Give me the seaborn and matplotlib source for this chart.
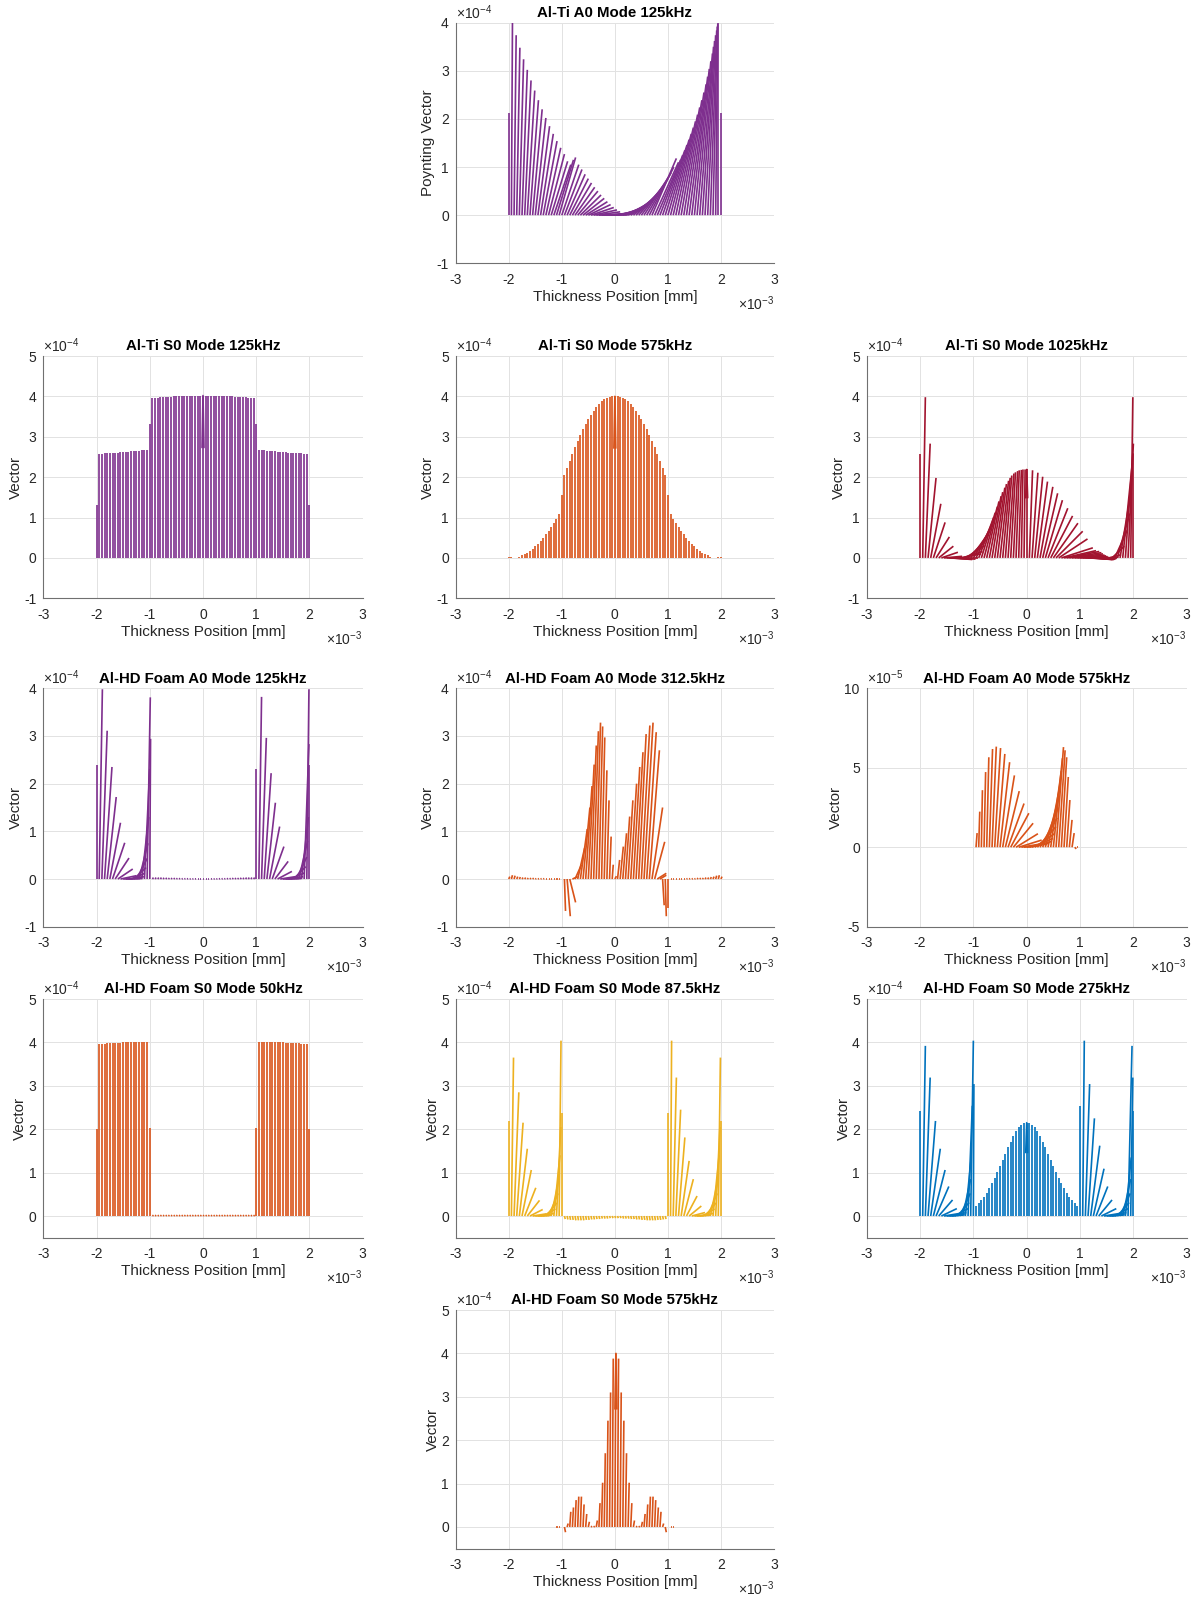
import numpy as np
import pandas as pd
import matplotlib
matplotlib.use("Agg")
import matplotlib.pyplot as plt
from matplotlib.ticker import ScalarFormatter, FixedLocator
import seaborn as sns

sns.set_theme(style="white")
plt.rcParams["font.family"] = ["Liberation Sans", "DejaVu Sans"]
plt.rcParams["axes.unicode_minus"] = False
plt.rcParams["mathtext.fontset"] = "custom"
plt.rcParams["mathtext.rm"] = "Liberation Sans"
plt.rcParams["mathtext.it"] = "Liberation Sans:italic"
plt.rcParams["mathtext.bf"] = "Liberation Sans:bold"

# ---------------------------------------------------------------------------
# Sample positions across the plate thickness [mm]
# ---------------------------------------------------------------------------
thickness_mm = [-2.00, -1.95, -1.90, -1.85, -1.80, -1.75, -1.70, -1.65, -1.60, -1.55,
                -1.50, -1.45, -1.40, -1.35, -1.30, -1.25, -1.20, -1.15, -1.10, -1.05,
                -1.00, -0.95, -0.90, -0.85, -0.80, -0.75, -0.70, -0.65, -0.60, -0.55,
                -0.50, -0.45, -0.40, -0.35, -0.30, -0.25, -0.20, -0.15, -0.10, -0.05,
                0.00, 0.05, 0.10, 0.15, 0.20, 0.25, 0.30, 0.35, 0.40, 0.45,
                0.50, 0.55, 0.60, 0.65, 0.70, 0.75, 0.80, 0.85, 0.90, 0.95,
                1.00, 1.05, 1.10, 1.15, 1.20, 1.25, 1.30, 1.35, 1.40, 1.45,
                1.50, 1.55, 1.60, 1.65, 1.70, 1.75, 1.80, 1.85, 1.90, 1.95, 2.00]

# Vectors at each sample: u = in-plane offset of the tip [mm], v = amplitude
# (in units of the axis exponent).
zero_21 = [0.00, 0.00, 0.00, 0.00, 0.00, 0.00, 0.00, 0.00, 0.00, 0.00, 0.00,
           0.00, 0.00, 0.00, 0.00, 0.00, 0.00, 0.00, 0.00, 0.00, 0.00]
zero_39 = [0.00, 0.00, 0.00, 0.00, 0.00, 0.00, 0.00, 0.00, 0.00, 0.00,
           0.00, 0.00, 0.00, 0.00, 0.00, 0.00, 0.00, 0.00, 0.00, 0.00,
           0.00, 0.00, 0.00, 0.00, 0.00, 0.00, 0.00, 0.00, 0.00, 0.00,
           0.00, 0.00, 0.00, 0.00, 0.00, 0.00, 0.00, 0.00, 0.00]
dash_39 = [0.02, 0.02, 0.02, 0.02, 0.02, 0.02, 0.02, 0.02, 0.02, 0.02,
           0.02, 0.02, 0.02, 0.02, 0.02, 0.02, 0.02, 0.02, 0.02, 0.02,
           0.02, 0.02, 0.02, 0.02, 0.02, 0.02, 0.02, 0.02, 0.02, 0.02,
           0.02, 0.02, 0.02, 0.02, 0.02, 0.02, 0.02, 0.02, 0.02]
vertical_81 = zero_21 + zero_39 + zero_21

# --- Al-Ti A0 125 kHz ---
alti_a0_125_u = ([0.00]
                 + [0.02, 0.04, 0.06, 0.08, 0.10, 0.12, 0.14, 0.16, 0.18, 0.20,
                    0.22, 0.24, 0.26, 0.28, 0.30, 0.31, 0.32, 0.32, 0.31, 0.32,
                    0.33, 0.34, 0.35, 0.36, 0.37, 0.38, 0.39, 0.40, 0.41, 0.42,
                    0.43, 0.44, 0.45, 0.46, 0.46]
                 + [0.45, 0.46, 0.46, 0.47, 0.47, 0.47, 0.47, 0.47, 0.46, 0.46,
                    0.46, 0.46, 0.45, 0.45, 0.45, 0.45, 0.46, 0.46, 0.46, 0.45,
                    0.44, 0.43, 0.42, 0.41, 0.40, 0.39, 0.38, 0.37, 0.36, 0.35,
                    0.34, 0.33, 0.32, 0.30, 0.28, 0.26, 0.24, 0.21, 0.18, 0.15,
                    0.12, 0.08, 0.04, 0.00]
                 + [0.00])
alti_a0_125_v = ([2.12]
                 + [4.00, 3.74, 3.48, 3.24, 3.02, 2.80, 2.59, 2.39, 2.20, 2.02,
                    1.85, 1.69, 1.54, 1.40, 1.27, 1.12, 1.05, 1.15, 1.20, 1.05,
                    0.95, 0.85, 0.76, 0.67, 0.58, 0.50, 0.42, 0.35, 0.28, 0.22,
                    0.16, 0.11, 0.07, 0.03, 0.01]
                 + [0.01, 0.02, 0.04, 0.06, 0.09, 0.12, 0.16, 0.20, 0.25, 0.30,
                    0.36, 0.43, 0.50, 0.58, 0.67, 0.77, 0.88, 1.00, 1.18, 1.10,
                    1.15, 1.25, 1.35, 1.46, 1.57, 1.69, 1.82, 1.95, 2.09, 2.24,
                    2.39, 2.55, 2.72, 2.88, 3.04, 3.20, 3.36, 3.50, 3.62, 3.74,
                    3.84, 3.92, 3.97, 4.00]
                 + [2.12])

# --- Al-Ti S0 125 kHz ---
alti_s0_125_v = ([1.30]
                 + [2.58, 2.58, 2.59, 2.59, 2.60, 2.60, 2.61, 2.61, 2.62, 2.62,
                    2.63, 2.63, 2.64, 2.64, 2.65, 2.65, 2.66, 2.66, 2.67]
                 + [3.32]
                 + [3.96, 3.97, 3.97, 3.98, 3.98, 3.99, 3.99, 3.99, 4.00, 4.00,
                    4.00, 4.01, 4.01, 4.01, 4.01, 4.02, 4.02, 4.02, 4.02, 4.02,
                    4.02, 4.02, 4.02, 4.02, 4.01, 4.01, 4.01, 4.01, 4.00, 4.00,
                    4.00, 3.99, 3.99, 3.99, 3.98, 3.98, 3.97, 3.97, 3.96]
                 + [3.32]
                 + [2.67, 2.66, 2.66, 2.65, 2.65, 2.64, 2.64, 2.63, 2.63, 2.62,
                    2.62, 2.61, 2.61, 2.60, 2.60, 2.59, 2.59, 2.58, 2.58]
                 + [1.30])

# --- Al-Ti S0 575 kHz ---
alti_s0_575_v = ([0.03, 0.03, 0.01, 0.01, 0.03, 0.06, 0.09, 0.13, 0.18, 0.23,
                  0.29, 0.35, 0.42, 0.50, 0.58, 0.67, 0.76, 0.86, 0.96, 1.08]
                 + [1.55]
                 + [2.05, 2.22, 2.40, 2.57, 2.75, 2.90, 3.05, 3.19, 3.32, 3.44,
                    3.55, 3.65, 3.74, 3.81, 3.88, 3.93, 3.97, 3.99, 4.00, 4.00]
                 + [4.00, 3.99, 3.97, 3.93, 3.88, 3.81, 3.74, 3.65, 3.55, 3.44,
                    3.32, 3.19, 3.05, 2.90, 2.75, 2.57, 2.40, 2.22, 2.05]
                 + [1.55]
                 + [1.08, 0.96, 0.86, 0.76, 0.67, 0.58, 0.50, 0.42, 0.35, 0.29,
                    0.23, 0.18, 0.13, 0.09, 0.06, 0.03, 0.01, 0.01, 0.03, 0.03])

# --- Al-Ti S0 1025 kHz ---
alti_s0_1025_u = ([0.00]
                  + [0.05, 0.09, 0.15, 0.19, 0.22, 0.25, 0.275, 0.31, 0.34]
                  + [0.36, 0.37, 0.38, 0.39, 0.39]
                  + [0.39, 0.37, 0.36, 0.34, 0.33, 0.31, 0.29, 0.28, 0.26, 0.25,
                     0.23, 0.22, 0.20, 0.19, 0.17, 0.16, 0.14, 0.12, 0.11, 0.09,
                     0.08, 0.06, 0.05, 0.03, 0.02, 0.00]
                  + [0.06, 0.11, 0.15, 0.19, 0.24, 0.28, 0.32, 0.37, 0.41, 0.46,
                     0.50, 0.54, 0.59, 0.60, 0.61]
                  + [0.60, 0.58, 0.56, 0.54, 0.52, 0.49, 0.46, 0.43, 0.40, 0.37,
                     0.34, 0.31, 0.28, 0.25, 0.22]
                  + [0.22, 0.23, 0.24, 0.23, 0.21, 0.18, 0.14, 0.10, 0.04]
                  + [0.00])
alti_s0_1025_v = ([2.58]
                  + [3.98, 2.83, 1.98, 1.34, 0.88, 0.52, 0.29, 0.14, 0.04]
                  + [-0.01, -0.03, -0.04, -0.03, 0.00]
                  + [0.10, 0.16, 0.30, 0.45, 0.60, 0.70, 0.82, 1.00, 1.12, 1.27,
                     1.40, 1.53, 1.63, 1.74, 1.83, 1.91, 1.98, 2.04, 2.09, 2.12,
                     2.15, 2.17, 2.18, 2.19, 2.19, 2.19]
                  + [2.17, 2.11, 2.01, 1.89, 1.76, 1.60, 1.43, 1.23, 1.04, 0.86,
                     0.66, 0.47, 0.25, 0.18, 0.16]
                  + [0.13, 0.10, 0.07, 0.05, 0.03, 0.01, -0.01, -0.03, -0.04, -0.04,
                     -0.04, -0.03, -0.02, 0.00, 0.02]
                  + [0.08, 0.29, 0.70, 1.10, 1.68, 2.34, 2.60, 2.83, 3.98]
                  + [2.58])

# --- Al-HD Foam A0 125 kHz ---
foam_a0_125_u = ([0.00, 0.06, 0.10, 0.14, 0.17, 0.20, 0.23, 0.26, 0.28, 0.30,
                  0.31, 0.31, 0.29, 0.26, 0.23, 0.20, 0.165, 0.13, 0.10, 0.06, 0.015]
                 + dash_39
                 + [0.00, 0.05, 0.09, 0.13, 0.16, 0.19, 0.22, 0.25, 0.27, 0.29,
                    0.30, 0.30, 0.28, 0.26, 0.23, 0.20, 0.165, 0.13, 0.09, 0.04, 0.00])
foam_a0_125_v = ([2.40, 3.98, 3.11, 2.35, 1.72, 1.18, 0.76, 0.44, 0.21, 0.07,
                  0.01, 0.01, 0.05, 0.12, 0.24, 0.43, 0.75, 1.30, 2.31, 3.81, 2.94]
                 + [0.03, 0.03, 0.03, 0.03, 0.025, 0.025, 0.02, 0.02, 0.02, 0.015,
                    0.015, 0.01, 0.01, 0.01, 0.005, 0.005, 0.005, 0.00, 0.00, 0.00,
                    0.00, 0.00, 0.005, 0.005, 0.005, 0.01, 0.01, 0.01, 0.015, 0.015,
                    0.02, 0.02, 0.02, 0.025, 0.025, 0.03, 0.03, 0.03, 0.03]
                 + [2.31, 3.82, 2.96, 2.22, 1.60, 1.10, 0.68, 0.37, 0.16, 0.05,
                    0.01, 0.01, 0.05, 0.13, 0.26, 0.46, 0.80, 1.30, 2.83, 3.98, 2.40])

# --- Al-HD Foam A0 312.5 kHz ---
foam_a0_3125_u = ([0.02, 0.02, 0.02, 0.02, 0.02, 0.02, 0.02, 0.02, 0.02, 0.02,
                   0.02, 0.02, 0.02, 0.02, 0.02, 0.02, 0.02, 0.02, 0.02, 0.02]
                  + [0.00, 0.02, 0.06, 0.11,
                     0.10, 0.12, 0.13, 0.13, 0.13, 0.12, 0.11, 0.10, 0.09, 0.08,
                     0.07, 0.06, 0.05, 0.04, 0.03, 0.02,
                     0.03, 0.04, 0.06, 0.07, 0.08, 0.09, 0.11, 0.12, 0.13, 0.14,
                     0.16, 0.17, 0.18, 0.19, 0.20, 0.19, 0.17,
                     0.12, 0.03, 0.02, 0.00]
                  + [0.02, 0.02, 0.02, 0.02, 0.02, 0.02, 0.02, 0.02, 0.02, 0.02,
                     0.02, 0.02, 0.02, 0.02, 0.02, 0.02, 0.02, 0.02, 0.02, 0.02])
foam_a0_3125_v = ([0.05, 0.08, 0.07, 0.05, 0.04, 0.03, 0.03, 0.02, 0.02, 0.02,
                   0.01, 0.01, 0.01, 0.01, 0.00, 0.00, 0.00, 0.00, 0.00, 0.00]
                  + [0.01, -0.67, -0.78, -0.49,
                     0.05, 0.30, 0.65, 1.05, 1.50, 1.95, 2.40, 2.80, 3.10, 3.28,
                     3.20, 2.97, 2.28, 1.65, 0.89, 0.30,
                     0.06, 0.40, 0.68, 0.96, 1.31, 1.65, 2.00, 2.35, 2.66, 3.04,
                     3.22, 3.28, 3.08, 2.70, 1.50, 0.78, 0.12,
                     0.08, -0.55, -0.78, -0.60]
                  + [0.00, 0.00, 0.00, 0.00, 0.00, 0.00, 0.01, 0.01, 0.01, 0.01,
                     0.02, 0.02, 0.02, 0.03, 0.03, 0.04, 0.05, 0.07, 0.08, 0.05])

# --- Al-HD Foam A0 575 kHz (units of 1e-5) ---
foam_a0_575_u = (zero_21
                 + [0.02, 0.02, 0.02, 0.03, 0.04, 0.06, 0.08, 0.11, 0.14, 0.18,
                    0.22, 0.26, 0.30, 0.34, 0.37, 0.41, 0.43, 0.44,
                    0.43, 0.42, 0.41, 0.39, 0.37, 0.35, 0.32, 0.29, 0.26, 0.23,
                    0.20, 0.17, 0.14, 0.12, 0.10, 0.08, 0.06, 0.05, 0.04, 0.03, 0.02]
                 + zero_21)
foam_a0_575_v = (zero_21
                 + [0.89, 2.24, 3.59, 4.73, 5.66, 6.18, 6.33, 6.24, 5.87, 5.35,
                    4.52, 3.53, 2.75, 2.14, 1.51, 0.85, 0.45, 0.25,
                    0.20, 0.25, 0.35, 0.55, 0.85, 1.30, 1.85, 2.50, 3.20, 4.00,
                    4.80, 5.60, 6.30, 6.10, 5.66, 4.42, 2.97, 1.72, 0.89, -0.10, 0.00]
                 + zero_21)

# --- Al-HD Foam S0 50 kHz ---
foam_s0_50_u = zero_21 + dash_39 + zero_21
foam_s0_50_v = ([2.00, 3.96, 3.965, 3.97, 3.975, 3.98, 3.985, 3.99, 3.99, 3.995,
                 4.00, 4.00, 4.005, 4.01, 4.01, 4.015, 4.015, 4.02, 4.02, 4.02, 2.03]
                + [0.02, 0.02, 0.02, 0.02, 0.02, 0.02, 0.02, 0.02, 0.02, 0.02,
                   0.02, 0.02, 0.02, 0.02, 0.02, 0.02, 0.02, 0.02, 0.02, 0.02,
                   0.02, 0.02, 0.02, 0.02, 0.02, 0.02, 0.02, 0.02, 0.02, 0.02,
                   0.02, 0.02, 0.02, 0.02, 0.02, 0.02, 0.02, 0.02, 0.02]
                + [2.03, 4.02, 4.02, 4.02, 4.015, 4.015, 4.01, 4.01, 4.005, 4.00,
                   4.00, 3.995, 3.99, 3.99, 3.985, 3.98, 3.975, 3.97, 3.965, 3.96, 2.00])

# --- Al-HD Foam S0 87.5 kHz ---
foam_s0_875_u = ([0.00, 0.04, 0.09, 0.12, 0.15, 0.175, 0.21, 0.23, 0.24, 0.26,
                  0.26, 0.26, 0.25, 0.23, 0.205, 0.18, 0.15, 0.115, 0.08, 0.035, 0.00]
                 + [0.015, 0.015, 0.015, 0.015, 0.015, 0.015, 0.015, 0.015, 0.015, 0.015,
                    0.015, 0.015, 0.015, 0.015, 0.015, 0.015, 0.015, 0.015, 0.015, 0.015,
                    0.015, 0.015, 0.015, 0.015, 0.015, 0.015, 0.015, 0.015, 0.015, 0.015,
                    0.015, 0.015, 0.015, 0.015, 0.015, 0.015, 0.015, 0.015, 0.015]
                 + [0.00, 0.02, 0.06, 0.09, 0.12, 0.15, 0.18, 0.20, 0.23, 0.25,
                    0.26, 0.26, 0.25, 0.23, 0.205, 0.18, 0.15, 0.115, 0.08, 0.04, 0.00])
foam_s0_875_v = ([2.19, 3.65, 2.85, 2.15, 1.55, 1.06, 0.65, 0.36, 0.15, 0.05,
                  0.01, 0.02, 0.06, 0.16, 0.30, 0.52, 0.88, 1.40, 2.05, 4.04, 2.38]
                 + [-0.07, -0.08, -0.09, -0.09, -0.10, -0.10, -0.10, -0.10, -0.09, -0.09,
                    -0.08, -0.08, -0.07, -0.07, -0.06, -0.06, -0.06, -0.05, -0.05, -0.05,
                    -0.05, -0.05, -0.06, -0.06, -0.06, -0.07, -0.07, -0.08, -0.08, -0.09,
                    -0.09, -0.10, -0.10, -0.10, -0.10, -0.09, -0.09, -0.08, -0.07]
                 + [2.38, 4.04, 3.19, 2.45, 1.81, 1.27, 0.85, 0.46, 0.23, 0.08,
                    0.02, 0.02, 0.06, 0.16, 0.30, 0.52, 0.88, 1.40, 2.05, 3.65, 2.19])

# --- Al-HD Foam S0 275 kHz ---
foam_s0_275_u = ([0.00, 0.05, 0.09, 0.14, 0.18, 0.22, 0.24, 0.26, 0.29, 0.30,
                  0.30, 0.29, 0.27, 0.25, 0.22, 0.19, 0.15, 0.11, 0.08, 0.05, 0.01]
                 + zero_39
                 + [0.00, 0.03, 0.08, 0.12, 0.17, 0.20, 0.22, 0.25, 0.28, 0.30,
                    0.30, 0.29, 0.27, 0.25, 0.22, 0.19, 0.15, 0.11, 0.075, 0.04, 0.00])
foam_s0_275_v = ([2.42, 3.92, 3.19, 2.19, 1.55, 1.06, 0.68, 0.37, 0.17, 0.06,
                  0.02, 0.03, 0.08, 0.17, 0.31, 0.52, 0.85, 1.35, 2.54, 4.04, 3.04]
                 + [0.24, 0.29, 0.36, 0.44, 0.53, 0.64, 0.75, 0.88, 1.01, 1.15,
                    1.30, 1.44, 1.58, 1.71, 1.84, 1.95, 2.04, 2.10, 2.14, 2.15,
                    2.14, 2.10, 2.04, 1.95, 1.84, 1.71, 1.58, 1.44, 1.30, 1.15,
                    1.01, 0.88, 0.75, 0.64, 0.53, 0.44, 0.36, 0.29, 0.24]
                 + [2.54, 4.04, 3.04, 2.25, 1.62, 1.09, 0.68, 0.37, 0.17, 0.06,
                    0.02, 0.03, 0.08, 0.17, 0.31, 0.52, 0.85, 1.35, 3.92, 3.19, 2.42])

# --- Al-HD Foam S0 575 kHz ---
foam_s0_575_u = ([0.00, 0.00, 0.00, 0.00, 0.00, 0.00, 0.00, 0.00, 0.00, 0.00,
                  0.00, 0.00, 0.00, 0.00, 0.00, 0.00, 0.00, 0.00, 0.02, 0.02, 0.00]
                 + dash_39
                 + [0.00, 0.02, 0.02, 0.00, 0.00, 0.00, 0.00, 0.00, 0.00, 0.00,
                    0.00, 0.00, 0.00, 0.00, 0.00, 0.00, 0.00, 0.00, 0.00, 0.00, 0.00])
foam_s0_575_v = (zero_21
                 + [-0.12, 0.08, 0.35, 0.45, 0.62, 0.70, 0.70, 0.52, 0.30, 0.12,
                    0.02, 0.02, 0.15, 0.55, 1.02, 1.70, 2.45, 3.10, 3.88, 4.00,
                    3.88, 3.10, 2.45, 1.70, 1.02, 0.55, 0.15, 0.02, 0.02, 0.12,
                    0.30, 0.52, 0.70, 0.70, 0.62, 0.45, 0.35, 0.08, -0.12]
                 + zero_21)

PURPLE = "#7E2F8E"
ORANGE = "#D95319"
RED = "#A2142F"
YELLOW = "#EDB120"
BLUE = "#0072BD"

W, H = 1195, 1597
COLS = [(43.3, 319.4), (455.7, 318.3), (866.7, 320.0)]
ROWS = [(22.7, 240.6), (356.0, 242.3), (688.3, 238.4), (999.0, 238.7), (1310.0, 238.7)]

panels = [
    dict(title="Al-Ti A0 Mode 125kHz", u=alti_a0_125_u, v=alti_a0_125_v, exp=-4,
         ylim=(-1, 4), yticks=[-1, 0, 1, 2, 3, 4], color=PURPLE,
         ylabel="Poynting Vector", cell=(0, 1), head=False),
    dict(title="Al-Ti S0 Mode 125kHz", u=vertical_81, v=alti_s0_125_v, exp=-4,
         ylim=(-1, 5), yticks=[-1, 0, 1, 2, 3, 4, 5], color=PURPLE,
         ylabel="Vector", cell=(1, 0), head=True),
    dict(title="Al-Ti S0 Mode 575kHz", u=vertical_81, v=alti_s0_575_v, exp=-4,
         ylim=(-1, 5), yticks=[-1, 0, 1, 2, 3, 4, 5], color=ORANGE,
         ylabel="Vector", cell=(1, 1), head=True),
    dict(title="Al-Ti S0 Mode 1025kHz", u=alti_s0_1025_u, v=alti_s0_1025_v, exp=-4,
         ylim=(-1, 5), yticks=[-1, 0, 1, 2, 3, 4, 5], color=RED,
         ylabel="Vector", cell=(1, 2), head=True),
    dict(title="Al-HD Foam A0 Mode 125kHz", u=foam_a0_125_u, v=foam_a0_125_v, exp=-4,
         ylim=(-1, 4), yticks=[-1, 0, 1, 2, 3, 4], color=PURPLE,
         ylabel="Vector", cell=(2, 0), head=False),
    dict(title="Al-HD Foam A0 Mode 312.5kHz", u=foam_a0_3125_u, v=foam_a0_3125_v, exp=-4,
         ylim=(-1, 4), yticks=[-1, 0, 1, 2, 3, 4], color=ORANGE,
         ylabel="Vector", cell=(2, 1), head=False),
    dict(title="Al-HD Foam A0 Mode 575kHz", u=foam_a0_575_u, v=foam_a0_575_v, exp=-5,
         ylim=(-5, 10), yticks=[-5, 0, 5, 10], color=ORANGE,
         ylabel="Vector", cell=(2, 2), head=False),
    dict(title="Al-HD Foam S0 Mode 50kHz", u=foam_s0_50_u, v=foam_s0_50_v, exp=-4,
         ylim=(-0.5, 5), yticks=[0, 1, 2, 3, 4, 5], color=ORANGE,
         ylabel="Vector", cell=(3, 0), head=False),
    dict(title="Al-HD Foam S0 Mode 87.5kHz", u=foam_s0_875_u, v=foam_s0_875_v, exp=-4,
         ylim=(-0.5, 5), yticks=[0, 1, 2, 3, 4, 5], color=YELLOW,
         ylabel="Vector", cell=(3, 1), head=False),
    dict(title="Al-HD Foam S0 Mode 275kHz", u=foam_s0_275_u, v=foam_s0_275_v, exp=-4,
         ylim=(-0.5, 5), yticks=[0, 1, 2, 3, 4, 5], color=BLUE,
         ylabel="Vector", cell=(3, 2), head=True),
    dict(title="Al-HD Foam S0 Mode 575kHz", u=foam_s0_575_u, v=foam_s0_575_v, exp=-4,
         ylim=(-0.5, 5), yticks=[0, 1, 2, 3, 4, 5], color=ORANGE,
         ylabel="Vector", cell=(4, 1), head=True),
]

x_ticks_mm = [-3, -2, -1, 0, 1, 2, 3]
AXIS_GRAY = "#707070"
TEXT_DARK = "#262626"


class ExpFormatter(ScalarFormatter):
    """Fixed power-of-ten scaling; plain tick labels with a hyphen minus."""

    def __init__(self, exponent):
        super().__init__(useOffset=False, useMathText=True)
        self.set_powerlimits((exponent, exponent))

    def __call__(self, x, pos=None):
        val = int(round(x / 10.0 ** self.orderOfMagnitude))
        return str(val)


def vector_table(u, v, exp):
    """Each vector becomes a two-point line from (x, 0) to (x + u, v)."""
    scale = 10.0 ** exp
    rows = []
    for k, (x0, du, dv) in enumerate(zip(thickness_mm, u, v)):
        if du == 0 and dv == 0:
            continue
        rows.append((x0 * 1e-3, 0.0, k))
        rows.append(((x0 + du) * 1e-3, dv * scale, k))
    return pd.DataFrame(rows, columns=["x", "y", "vec"])


def head_table(u, v, exp):
    """Arrow head on the mid-plane vector."""
    scale = 10.0 ** exp
    i0 = thickness_mm.index(0.00)
    tip_x = (thickness_mm[i0] + u[i0]) * 1e-3
    tip_y = v[i0] * scale
    back = tip_y * (1 - 0.32)
    w = 0.018e-3
    return pd.DataFrame({"x": [tip_x - w, tip_x, tip_x + w],
                         "y": [back, tip_y, back],
                         "vec": [1000, 1000, 1000]})


fig = plt.figure(figsize=(W / 100, H / 100), dpi=100)

for p in panels:
    assert len(p["u"]) == len(thickness_mm) and len(p["v"]) == len(thickness_mm), p["title"]
    r, c = p["cell"]
    top, h = ROWS[r]
    left, w = COLS[c]
    ax = fig.add_axes([left / W, 1 - (top + h) / H, w / W, h / H])

    df = vector_table(p["u"], p["v"], p["exp"])
    sns.lineplot(data=df, x="x", y="y", units="vec", estimator=None, sort=False,
                 color=p["color"], linewidth=1.2, solid_capstyle="butt",
                 legend=False, ax=ax)
    if p["head"]:
        sns.lineplot(data=head_table(p["u"], p["v"], p["exp"]), x="x", y="y",
                     units="vec", estimator=None, sort=False, color=p["color"],
                     linewidth=1.2, legend=False, ax=ax)

    scale = 10.0 ** p["exp"]
    ax.set_xlim(-3e-3, 3e-3)
    ax.set_ylim(p["ylim"][0] * scale, p["ylim"][1] * scale)
    ax.xaxis.set_major_locator(FixedLocator([t * 1e-3 for t in x_ticks_mm]))
    ax.yaxis.set_major_locator(FixedLocator([t * scale for t in p["yticks"]]))
    ax.xaxis.set_major_formatter(ExpFormatter(-3))
    ax.yaxis.set_major_formatter(ExpFormatter(p["exp"]))

    ax.grid(True, color="#e2e2e2", linewidth=0.7)
    ax.set_axisbelow(True)
    for s in ["top", "right"]:
        ax.spines[s].set_visible(False)
    for s in ["left", "bottom"]:
        ax.spines[s].set_color(AXIS_GRAY)
        ax.spines[s].set_linewidth(0.8)
    ax.tick_params(direction="in", length=2.5, width=0.6, color=AXIS_GRAY,
                   labelsize=10, labelcolor=TEXT_DARK)
    ax.tick_params(axis="x", pad=7)
    ax.tick_params(axis="y", pad=5)
    for off in (ax.xaxis.get_offset_text(), ax.yaxis.get_offset_text()):
        off.set_fontsize(10)
        off.set_color(TEXT_DARK)
    ax.xaxis.OFFSETTEXTPAD = 5
    ax.yaxis.OFFSETTEXTPAD = 3

    ax.set_xlabel("Thickness Position [mm]", fontsize=11, color=TEXT_DARK, labelpad=2)
    ax.set_ylabel(p["ylabel"], fontsize=11, color=TEXT_DARK, labelpad=1)
    ax.set_title(p["title"], fontsize=10.8, fontweight="bold", color="black", pad=4)

fig.savefig("out.png", dpi=100, facecolor="white")
